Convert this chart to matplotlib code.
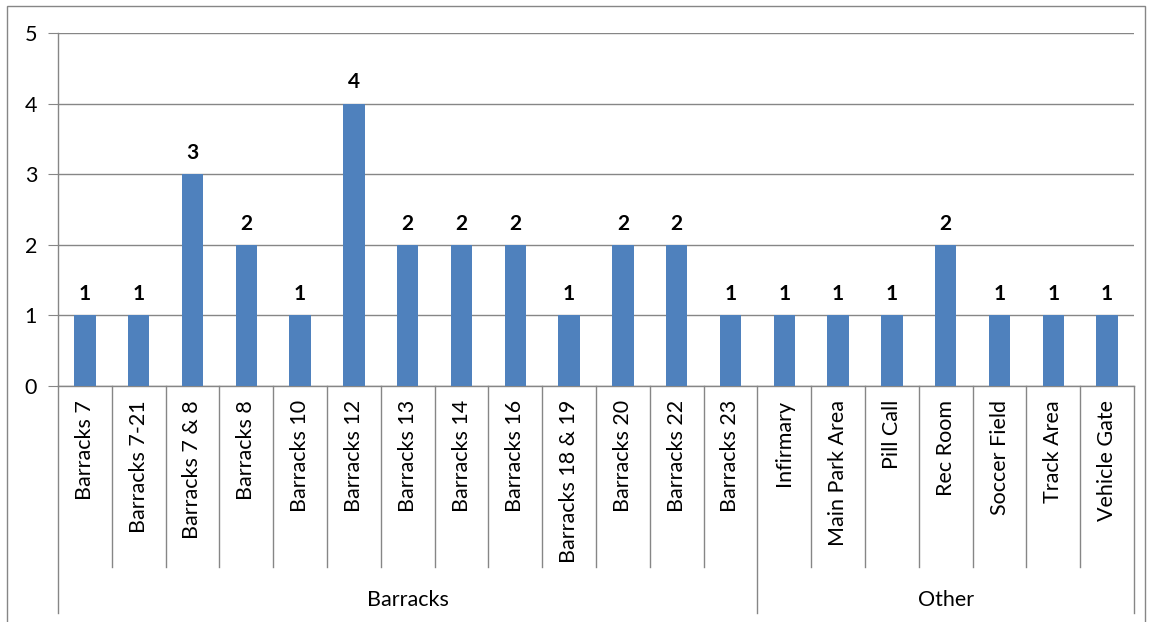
import matplotlib
matplotlib.use("Agg")
import matplotlib.pyplot as plt
from matplotlib.patches import Rectangle
import matplotlib.transforms as mtransforms

# data
categories = ["Barracks 7", "Barracks 7-21", "Barracks 7 & 8", "Barracks 8", "Barracks 10",
              "Barracks 12", "Barracks 13", "Barracks 14", "Barracks 16", "Barracks 18 & 19",
              "Barracks 20", "Barracks 22", "Barracks 23", "Infirmary", "Main Park Area",
              "Pill Call", "Rec Room", "Soccer Field", "Track Area", "Vehicle Gate"]
counts = [1, 1, 3, 2, 1, 4, 2, 2, 2, 1, 2, 2, 1, 1, 1, 1, 2, 1, 1, 1]
groups = ["Barracks", "Other"]
group_sizes = [13, 7]

plt.rcParams['font.family'] = ['Lato', 'DejaVu Sans']
grey = "#868686"
fs = 15.5

fig = plt.figure(figsize=(11.51, 6.22), dpi=100)
ax = fig.add_axes([58 / 1151, 1 - 386 / 622, (1134 - 58) / 1151, (386 - 33) / 622])

x = list(range(len(categories)))
bars = ax.bar(x, counts, width=0.4, color="#4F81BD", zorder=3)
ax.bar_label(bars, padding=8, fontsize=fs - 0.5, fontweight="bold")

ax.set_xlim(-0.5, len(categories) - 0.5)
ax.set_ylim(0, 5)
ax.set_yticks(range(6))
ax.tick_params(axis="y", length=7, color=grey, labelsize=fs, pad=8)
ax.set_xticks([])
ax.yaxis.grid(True, color=grey, linewidth=1)
ax.set_axisbelow(True)
for s in ["top", "right"]:
    ax.spines[s].set_visible(False)
for s in ["left", "bottom"]:
    ax.spines[s].set_color(grey)
    ax.spines[s].set_linewidth(1)

trans = mtransforms.blended_transform_factory(ax.transData, ax.transAxes)

# category labels and separators
for i, name in enumerate(categories):
    ax.text(i, -0.04, name, rotation=90, ha="center", va="top", fontsize=fs,
            transform=trans)

bounds = [-0.5]
for n in group_sizes:
    bounds.append(bounds[-1] + n)
for b in [i - 0.5 for i in range(len(categories) + 1)]:
    low = -0.643 if b in bounds else -0.513
    ax.plot([b, b], [0, low], color=grey, linewidth=1, transform=trans, clip_on=False)

# group labels
for g, lo, hi in zip(groups, bounds[:-1], bounds[1:]):
    ax.text((lo + hi) / 2, -0.605, g, ha="center", va="center", fontsize=fs,
            transform=trans)

# outer chart border
fig.patches.append(Rectangle((7 / 1151, -0.05), 1138 / 1151, 1 - 6 / 622 + 0.05,
                             transform=fig.transFigure, fill=False, edgecolor=grey,
                             linewidth=1))

fig.savefig("out.png", dpi=100)
